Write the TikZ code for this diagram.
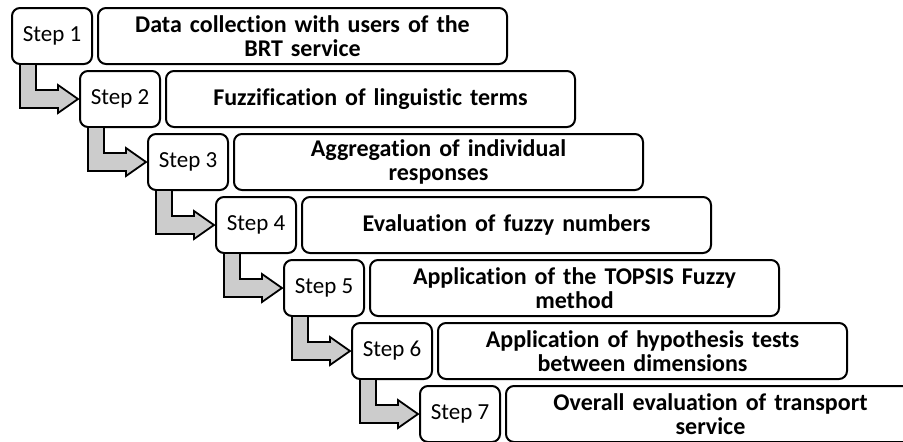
\documentclass[tikz,border=0pt]{standalone}
\usepackage{fontspec}
\setmainfont{Carlito}[Ligatures=NoCommon]
\usetikzlibrary{positioning,calc}

\begin{document}
\begin{tikzpicture}[line width=2pt,
  stepbox/.style={draw,rounded corners=8pt,inner sep=0pt,outer sep=0pt,minimum width=80pt,minimum height=56pt,font=\fontsize{23}{27}\selectfont},
  task/.style={draw,rounded corners=8pt,inner xsep=7pt,inner ysep=0pt,outer sep=0pt,text width=395pt,align=center,minimum height=56pt,font=\bfseries\fontsize{24}{24.5}\selectfont},
  flow/.style={draw=black,fill=gray!40,line width=1.8pt,line join=miter}]
\useasboundingbox (0,0) rectangle (903pt,-442pt);
\node[stepbox,anchor=north west] (s1) at (12pt,-8pt) {Step 1};
\node[stepbox,below right=7pt and -12pt of s1] (s2) {Step 2};
\node[stepbox,below right=7pt and -12pt of s2] (s3) {Step 3};
\node[stepbox,below right=7pt and -12pt of s3] (s4) {Step 4};
\node[stepbox,below right=7pt and -12pt of s4] (s5) {Step 5};
\node[stepbox,below right=7pt and -12pt of s5] (s6) {Step 6};
\node[stepbox,below right=7pt and -12pt of s6] (s7) {Step 7};
\node[task,right=6pt of s1] (t1) {Data collection with users of the\\BRT service};
\node[task,right=6pt of s2] (t2) {Fuzzification of linguistic terms};
\node[task,right=6pt of s3] (t3) {Aggregation of individual\\responses};
\node[task,right=6pt of s4] (t4) {Evaluation of fuzzy numbers};
\node[task,right=6pt of s5] (t5) {Application of the TOPSIS Fuzzy\\method};
\node[task,right=6pt of s6] (t6) {Application of hypothesis tests\\between dimensions};
\node[task,right=6pt of s7] (t7) {Overall evaluation of transport\\service};
% bent block arrows between the steps
\foreach \i [count=\j from 2] in {1,...,6}
  \draw[flow] ([xshift=8pt]s\i.south west) |- ([shift={(-22pt,-9pt)}]s\j.west) -- ++(0,-5pt)
    -- ([xshift=-2pt]s\j.west) -- ++(-20pt,14pt) -- ++(0,-5pt) -| ([xshift=24pt]s\i.south west) -- cycle;
\end{tikzpicture}
\end{document}
